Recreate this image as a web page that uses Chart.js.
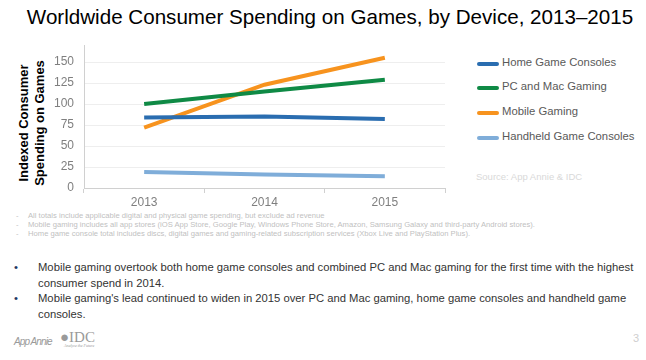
<!DOCTYPE html>
<html>
<head>
<meta charset="utf-8">
<script src="https://cdn.jsdelivr.net/npm/chart.js@4"></script>
<style>
    body { margin: 0; width: 646px; height: 360px; background: #fff; font-family: "Liberation Sans", Arial, sans-serif; position: relative; overflow: hidden; }
    .title { position: absolute; left: 0; width: 660px; top: 5px; text-align: center; font-size: 20.6px; color: #000; white-space: nowrap; }
    .ytitle { position: absolute; left: 32px; top: 123px; width: 160px; transform: translate(-50%, -50%) rotate(-90deg); text-align: center; font-weight: bold; font-size: 13px; line-height: 16px; color: #000; }
    #chartBox { position: absolute; left: 0; top: 28px; width: 460px; height: 181px; }
    .legend { position: absolute; left: 477px; top: 55.5px; font-size: 11.3px; color: #595959; }
    .legend div { height: 24.9px; display: flex; align-items: flex-start; white-space: nowrap; }
    .legend span.sw { display: inline-block; width: 22px; height: 4px; border-radius: 2px; margin: 6px 3px 0 0; }
    .source { position: absolute; left: 476px; top: 171px; font-size: 9.5px; color: #d9d9d9; }
    .notes { position: absolute; left: 16px; top: 211px; font-size: 7.65px; line-height: 9px; color: #bfbfbf; }
    .notes div { position: relative; padding-left: 12px; white-space: nowrap; }
    .notes div::before { content: "-"; position: absolute; left: 0; }
    .bullets { position: absolute; left: 14px; top: 260px; font-size: 11.25px; line-height: 15.5px; color: #333; }
    .bullets div { position: relative; padding-left: 24px; white-space: nowrap; }
    .bullets div::before { content: "\2022"; position: absolute; left: 0; color: #1f3864; }
    .foot-aa { position: absolute; left: 14px; top: 336px; font-size: 10px; font-style: italic; color: #9a9a9a; letter-spacing: -0.9px; }
    .foot-idc { position: absolute; left: 60px; top: 329px; font-family: "Liberation Serif", serif; font-size: 15px; color: #9a9a9a; }
    .foot-idc i { display: block; font-size: 4px; margin-top: -3px; margin-left: 4px; letter-spacing: 0; }
    .pageno { position: absolute; left: 633px; top: 332px; font-size: 11px; color: #cfcfcf; }
</style>
</head>
<body>
<div class="title">Worldwide Consumer Spending on Games, by Device, 2013–2015</div>
<div class="ytitle">Indexed Consumer<br>Spending on Games</div>
<div id="chartBox"><canvas id="gamesChart"></canvas></div>
<div class="legend" id="legend"></div>
<div class="source">Source: App Annie &amp; IDC</div>

<div class="notes">
    <div>All totals include applicable digital and physical game spending, but exclude ad revenue</div>
    <div>Mobile gaming includes all app stores (iOS App Store, Google Play, Windows Phone Store, Amazon, Samsung Galaxy and third-party Android stores).</div>
    <div>Home game console total includes discs, digital games and gaming-related subscription services (Xbox Live and PlayStation Plus).</div>
</div>

<div class="bullets">
    <div>Mobile gaming overtook both home game consoles and combined PC and Mac gaming for the first time with the highest<br>consumer spend in 2014.</div>
    <div>Mobile gaming's lead continued to widen in 2015 over PC and Mac gaming, home game consoles and handheld game<br>consoles.</div>
</div>

<div class="foot-aa">App Annie</div>
<div class="foot-idc">&#9679;IDC<i>Analyze the Future</i></div>
<div class="pageno">3</div>

<script>
// data (index values)
const years = ["2013", "2014", "2015"];
const homeConsoles = [84, 85, 82];
const pcMac = [100, 115, 129];
const mobile = [72, 123, 155];
const handheld = [19, 16, 14];
const yTickValues = [0, 25, 50, 75, 100, 125, 150];

const seriesNames  = ["Home Game Consoles", "PC and Mac Gaming", "Mobile Gaming", "Handheld Game Consoles"];
const seriesColors = ["#2a6db0", "#0f8a45", "#f7931e", "#7fadd9"];
const seriesData   = [homeConsoles, pcMac, mobile, handheld];

const datasets = seriesNames.map((name, i) => ({
    label: name,
    data: seriesData[i],
    borderColor: seriesColors[i],
    backgroundColor: seriesColors[i],
    borderWidth: 4,
    pointRadius: 0,
    tension: 0,
    fill: false
}));

new Chart(document.getElementById("gamesChart"), {
    type: "line",
    data: { labels: years, datasets: datasets },
    options: {
        responsive: true,
        maintainAspectRatio: false,
        animation: false,
        layout: { padding: { top: 5, right: 15, left: 0, bottom: 0 } },
        plugins: { legend: { display: false }, tooltip: { enabled: false } },
        scales: {
            x: {
                offset: true,
                grid: { display: true, drawOnChartArea: false, drawTicks: true, tickLength: 5, offset: true, color: "#d0d0d0" },
                border: { color: "#d0d0d0" },
                ticks: { color: "#7f7f7f", font: { family: "Liberation Sans", size: 12 }, padding: 2, maxRotation: 0 },
                afterFit: s => { s.height = 21; }
            },
            y: {
                min: 0,
                max: 170,
                afterBuildTicks: s => { s.ticks = yTickValues.map(v => ({ value: v })); },
                grid: { color: "#eeeeee", drawTicks: false },
                border: { color: "#d0d0d0" },
                ticks: { color: "#7f7f7f", font: { family: "Liberation Sans", size: 12 }, padding: 10 },
                afterFit: s => { s.width = 84; }
            }
        }
    }
});

// html legend built from the same series
const legend = document.getElementById("legend");
seriesNames.forEach((name, i) => {
    const row = document.createElement("div");
    row.innerHTML = `<span class="sw" style="background:${seriesColors[i]}"></span>${name}`;
    legend.appendChild(row);
});
</script>
</body>
</html>
